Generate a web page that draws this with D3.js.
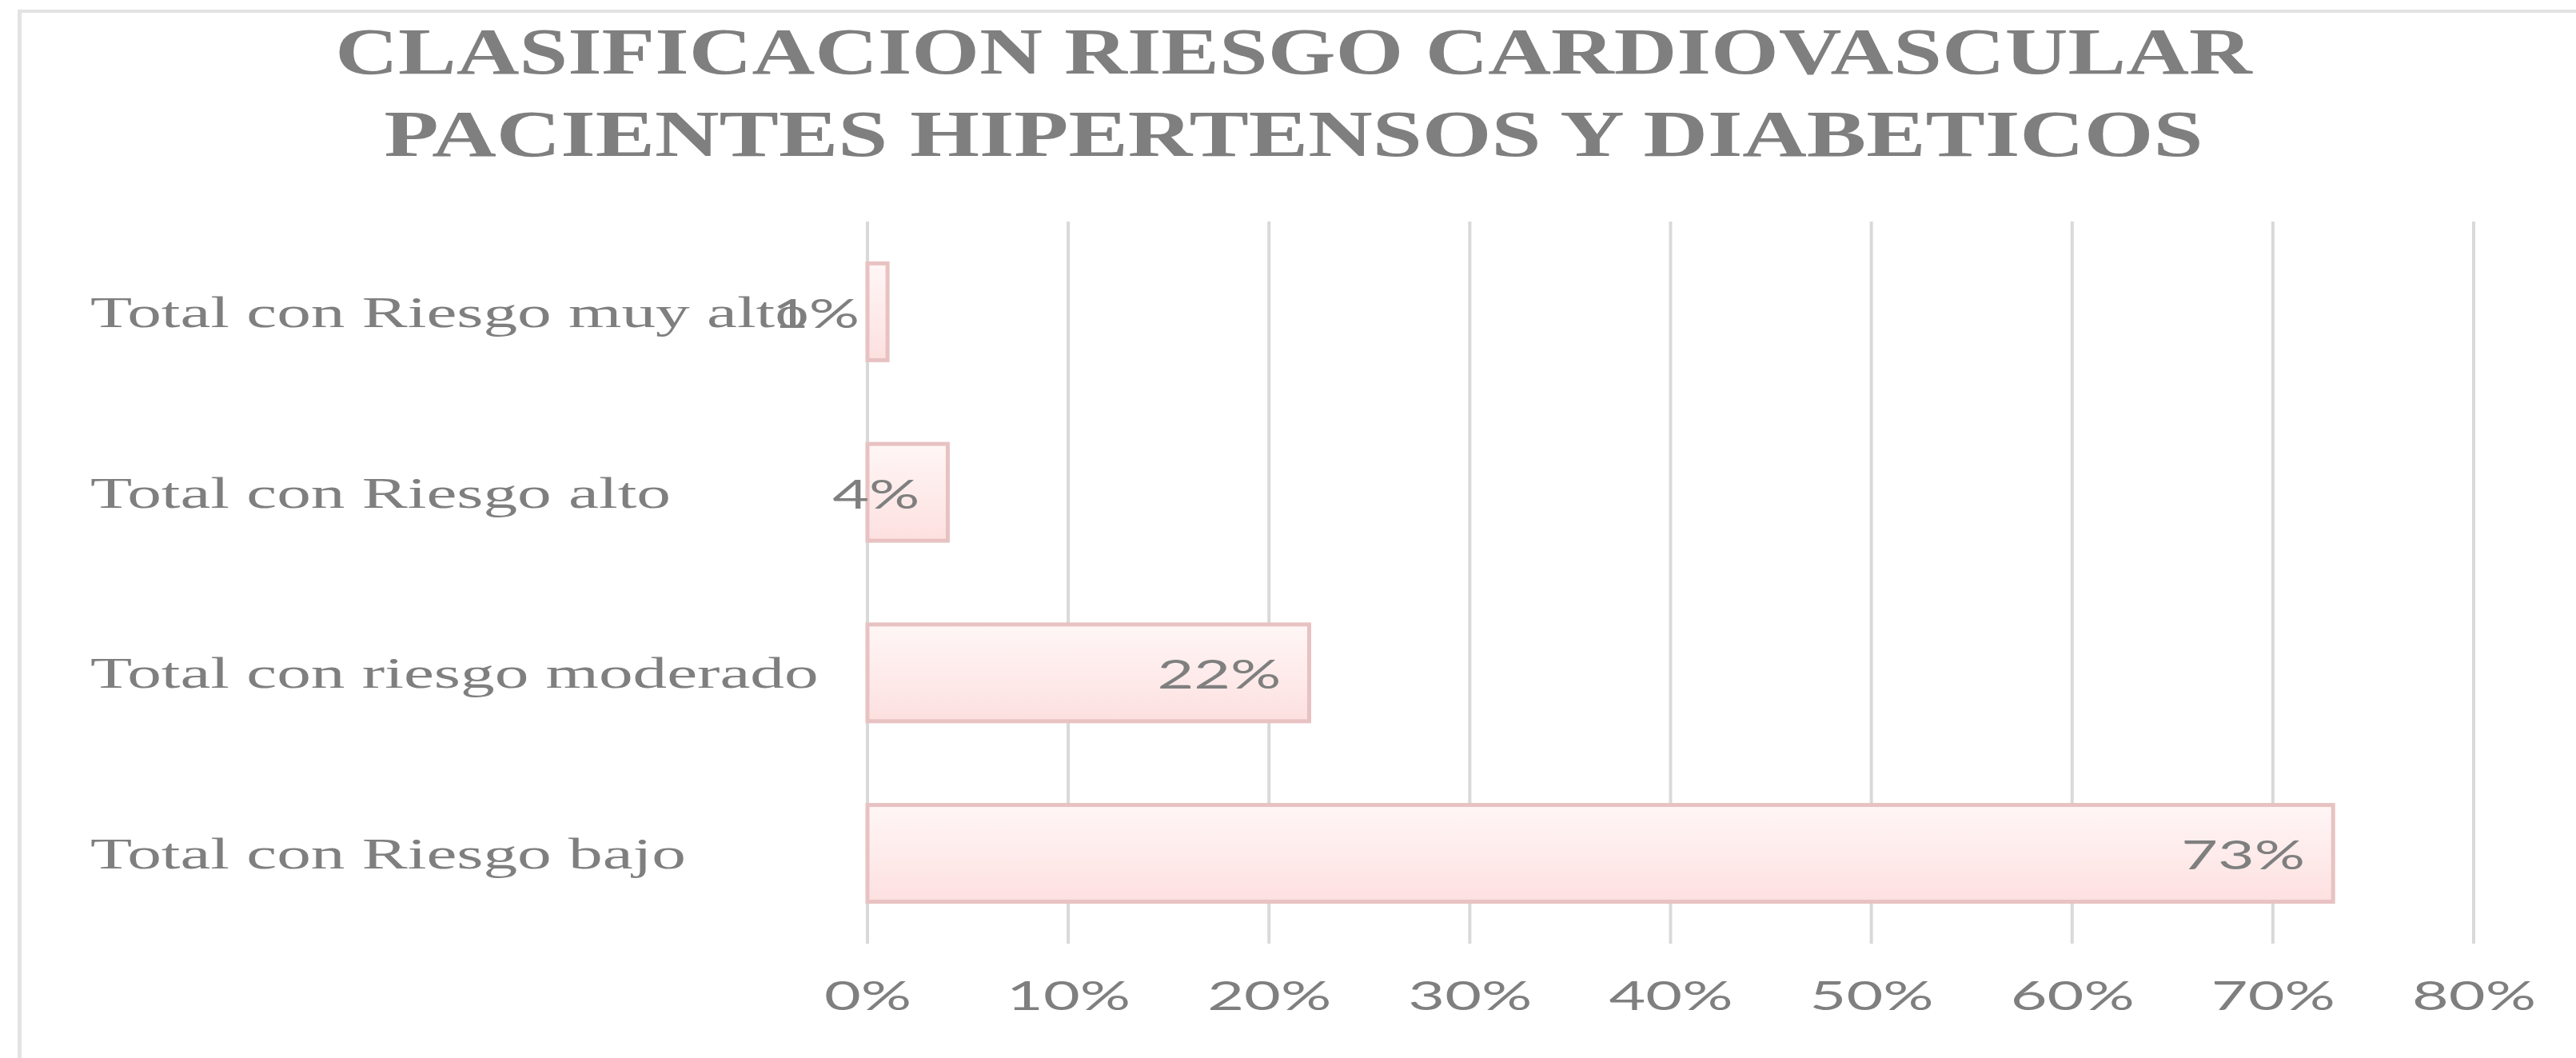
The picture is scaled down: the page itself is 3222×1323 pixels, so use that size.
<!DOCTYPE html>
<html>
<head>
<meta charset="utf-8">
<script src="https://cdn.jsdelivr.net/npm/d3@7/dist/d3.min.js"></script>
<style>
  html, body { margin: 0; padding: 0; background: #ffffff; }
  svg { display: block; }
</style>
</head>
<body>
<script>
// ---- data ----
const titleLines = ["CLASIFICACION RIESGO CARDIOVASCULAR", "PACIENTES HIPERTENSOS Y DIABETICOS"];
const categories = ["Total con Riesgo muy alto", "Total con Riesgo alto", "Total con riesgo moderado", "Total con Riesgo bajo"];
const values = [0.01, 0.04, 0.22, 0.73];
const tickValues = [0, 0.1, 0.2, 0.3, 0.4, 0.5, 0.6, 0.7, 0.8];

// ---- layout ----
const W = 3222, H = 1323;
const plot = { left: 1085, right: 3094, top: 277, bottom: 1180 };
const grey = "#7f7f7f";
const serif = "'Liberation Serif', 'DejaVu Serif', serif";
const sans = "Lato, 'Liberation Sans', sans-serif";

const svg = d3.select("body").append("svg")
  .attr("width", W).attr("height", H)
  .attr("viewBox", `0 0 ${W} ${H}`);

svg.append("rect").attr("width", W).attr("height", H).attr("fill", "#fff");

// chart border (only top and left visible in the crop)
svg.append("line").attr("x1", 24.5).attr("x2", 24.5).attr("y1", 12).attr("y2", H)
  .attr("stroke", "#e3e3e3").attr("stroke-width", 5);
svg.append("line").attr("x1", 22).attr("x2", W).attr("y1", 14).attr("y2", 14)
  .attr("stroke", "#e3e3e3").attr("stroke-width", 4);

const defs = svg.append("defs");
const grad = defs.append("linearGradient").attr("id", "barGrad")
  .attr("x1", 0).attr("y1", 0).attr("x2", 0).attr("y2", 1);
grad.append("stop").attr("offset", "0%").attr("stop-color", "#fff6f6");
grad.append("stop").attr("offset", "100%").attr("stop-color", "#fde0e0");

const x = d3.scaleLinear().domain([0, 0.8]).range([plot.left, plot.right]);
const y = d3.scaleBand().domain(categories).range([plot.top, plot.bottom])
  .paddingInner(0.464).paddingOuter(0.232);

// title
const titleStretch = [1.33, 1.36];
svg.append("g").selectAll("text").data(titleLines).join("text")
  .attr("transform", (d, i) => `translate(1618, ${[92, 195][i]}) scale(${titleStretch[i]},1)`)
  .attr("text-anchor", "middle")
  .attr("font-family", serif).attr("font-weight", "bold")
  .attr("font-size", 82).attr("fill", grey)
  .text(d => d);

// gridlines
svg.append("g").selectAll("line").data(tickValues).join("line")
  .attr("x1", d => x(d)).attr("x2", d => x(d))
  .attr("y1", plot.top).attr("y2", plot.bottom)
  .attr("stroke", "#d9d9d9").attr("stroke-width", 4);

// x axis labels
const tickStretch = 1.55;
const axis = svg.append("g").attr("transform", `translate(0, ${plot.bottom})`)
  .call(d3.axisBottom(x).tickValues(tickValues).tickFormat(d3.format(".0%")).tickSize(0));
axis.select(".domain").remove();
axis.selectAll("text")
  .attr("y", 83).attr("dy", 0)
  .attr("transform", `scale(${tickStretch},1)`)
  .attr("font-family", sans).attr("font-size", 51).attr("fill", grey);

// bars
svg.append("g").selectAll("rect").data(values).join("rect")
  .attr("x", x(0))
  .attr("y", (d, i) => y(categories[i]))
  .attr("width", d => x(d) - x(0))
  .attr("height", y.bandwidth())
  .attr("fill", "url(#barGrad)")
  .attr("stroke", "#e8c2c2").attr("stroke-width", 5);

// category labels
const catStretch = 1.58;
svg.append("g").selectAll("text").data(categories).join("text")
  .attr("transform", d => `translate(113, ${y(d) + y.bandwidth() / 2 + 19}) scale(${catStretch},1)`)
  .attr("text-anchor", "start")
  .attr("font-family", serif).attr("font-size", 54).attr("fill", grey)
  .text(d => d);

// data labels (inside end)
svg.append("g").selectAll("text").data(values).join("text")
  .attr("transform", (d, i) => `translate(${x(d) - 35}, ${y(categories[i]) + y.bandwidth() / 2 + 20}) scale(${tickStretch},1)`)
  .attr("text-anchor", "end")
  .attr("font-family", sans).attr("font-size", 51).attr("fill", grey)
  .text(d => d3.format(".0%")(d));
</script>
</body>
</html>
